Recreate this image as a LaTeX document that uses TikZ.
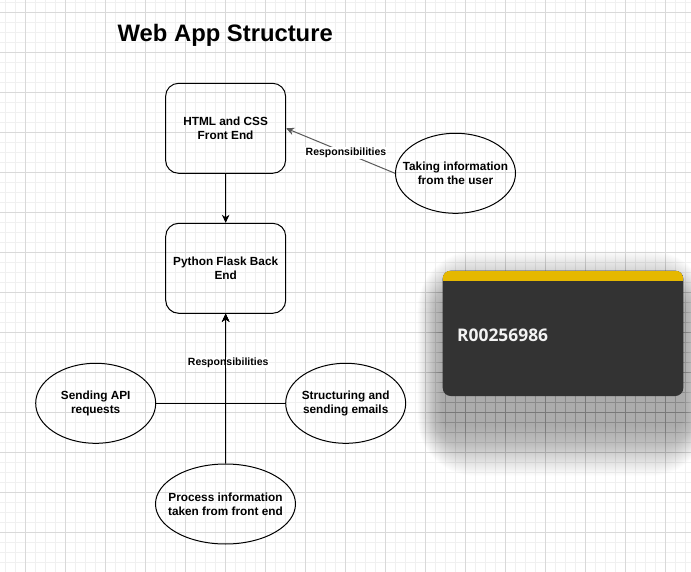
\documentclass[tikz,border=0pt]{standalone}
\usepackage{fontspec}
\setmainfont{Liberation Sans}
\newfontfamily\idfont{Open Sans}
\usepackage{xcolor}
\usetikzlibrary{arrows.meta, shapes.geometric}

\definecolor{gridmaj}{HTML}{D9D9D9}
\definecolor{gridmin}{HTML}{F0F0F0}
\definecolor{cardbg}{HTML}{333333}
\definecolor{cardtop}{HTML}{E5B800}

\tikzset{
    box/.style={draw, line width=1pt, rounded corners=13pt, minimum width=120pt, minimum height=90pt,
        inner sep=0pt, align=center, font=\bfseries\fontsize{11.8}{14}\selectfont},
    oval/.style={draw, ellipse, line width=1pt, minimum width=120pt, minimum height=80pt,
        inner xsep=-20pt, inner ysep=0pt, align=center, font=\bfseries\fontsize{11.8}{14}\selectfont},
    conn/.style={line width=1pt, -{Stealth[length=8pt, width=7.5pt, inset=2.5pt]}},
    lbl/.style={fill=white, inner sep=1pt, text=black, font=\bfseries\fontsize{10.5}{12}\selectfont}
}

\begin{document}
\begin{tikzpicture}[x=1pt, y=-1pt]
        \useasboundingbox (0,0) rectangle (691,572);

        \foreach \i in {0,...,68} \draw[gridmin, line width=1pt] (5+10*\i,0) -- (5+10*\i,572);
        \foreach \i in {0,...,57} \draw[gridmin, line width=1pt] (0,2.7+10*\i) -- (691,2.7+10*\i);
        \foreach \i in {0,...,16} \draw[gridmaj, line width=1pt] (25+40*\i,0) -- (25+40*\i,572);
        \foreach \i in {0,...,14} \draw[gridmaj, line width=1pt] (0,12.7+40*\i) -- (691,12.7+40*\i);

        \foreach \i in {0,...,50}
            \fill[black, opacity=0.007, rounded corners=8pt+\i pt]
                (442.7-0.5*\i, 300.7-\i) rectangle (683.3+0.5*\i, 426+\i);

        \fill[cardbg, rounded corners=8pt] (442.7,270.7) rectangle (683.3,396);
        \begin{scope}
            \clip[rounded corners=8pt] (442.7,270.7) rectangle (683.3,396);
            \fill[cardtop] (442.7,270.7) rectangle (683.3,280.7);
        \end{scope}
        \node[anchor=base west, inner sep=0pt, text=white!95!black,
            font=\idfont\bfseries\fontsize{17.4}{20}\selectfont] (rid) at (457,341.7) {R00256986};

        \node[anchor=base west, inner sep=0pt, font=\bfseries\fontsize{23.8}{28}\selectfont]
            (title) at (117.5,41.7) {Web App Structure};

        \node[box] (front) at (225.6,128.3) {HTML and CSS\\Front End};
        \node[box] (back) at (225.7,268.3) {Python Flask Back\\End};
        \node[oval] (take) at (455.5,173.3) {Taking information\\from the user};
        \node[oval] (api) at (95.7,403.3) {Sending API\\requests};
        \node[oval] (mail) at (345.7,403.3) {Structuring and\\sending emails};
        \node[oval, minimum width=140pt] (proc) at (225.5,504) {Process information\\taken from front end};

        \draw[conn] (front) -- (back);
        \draw[conn, black!65] (take.west) -- node[lbl, pos=.45] {Responsibilities} (front.east);
        \draw[conn] (proc) -- node[lbl, pos=.675, xshift=2.6pt] {Responsibilities} (back);
        \draw[conn] (api) -| (back);
        \draw[conn] (mail) -| (back);
\end{tikzpicture}
\end{document}
